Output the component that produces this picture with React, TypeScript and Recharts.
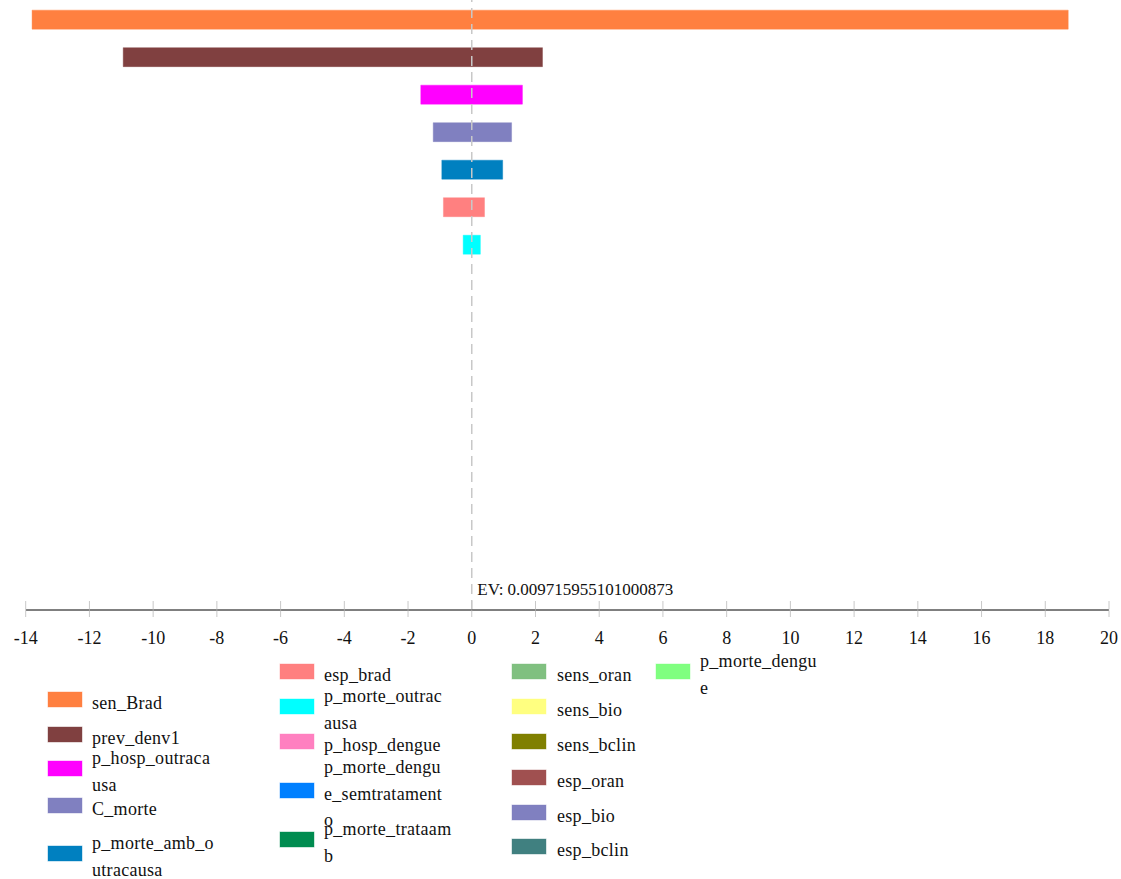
import React from 'react';
import { BarChart, Bar, XAxis, YAxis, ReferenceLine, Cell } from 'recharts';

// ---- data ----
const categories = [
  'sen_Brad',
  'prev_denv1',
  'p_hosp_outracausa',
  'C_morte',
  'p_morte_amb_outracausa',
  'esp_brad',
  'p_morte_outracausa',
  'p_hosp_dengue',
  'p_morte_dengue_semtratamento',
  'p_morte_trataamb',
  'sens_oran',
  'sens_bio',
  'sens_bclin',
  'esp_oran',
  'esp_bio',
  'esp_bclin',
  'p_morte_dengue',
];
const lowValues = [-13.8, -10.94, -1.6, -1.21, -0.94, -0.89, -0.27, 0, 0, 0, 0, 0, 0, 0, 0, 0, 0];
const highValues = [18.72, 2.22, 1.59, 1.25, 0.97, 0.4, 0.27, 0, 0, 0, 0, 0, 0, 0, 0, 0, 0];
const colors = [
  '#FF8040',
  '#804040',
  '#FF00FF',
  '#8080C0',
  '#0080C0',
  '#FF8080',
  '#00FFFF',
  '#FF80C0',
  '#0080FF',
  '#008C50',
  '#80C080',
  '#FFFF80',
  '#808000',
  '#A05050',
  '#8080C0',
  '#408080',
  '#80FF80',
];
const xTicks = [-14, -12, -10, -8, -6, -4, -2, 0, 2, 4, 6, 8, 10, 12, 14, 16, 18, 20];
const evValue = '0.009715955101000873';
// legend labels as wrapped in the reference
const legendLines = [
  ['sen_Brad'],
  ['prev_denv1'],
  ['p_hosp_outraca', 'usa'],
  ['C_morte'],
  ['p_morte_amb_o', 'utracausa'],
  ['esp_brad'],
  ['p_morte_outrac', 'ausa'],
  ['p_hosp_dengue'],
  ['p_morte_dengu', 'e_semtratament', 'o'],
  ['p_morte_trataam', 'b'],
  ['sens_oran'],
  ['sens_bio'],
  ['sens_bclin'],
  ['esp_oran'],
  ['esp_bio'],
  ['esp_bclin'],
  ['p_morte_dengu', 'e'],
];

// ---- layout (not data) ----
const legendColumns = [
  { x: 48, tx: 92, items: [0, 1, 2, 3, 4], tops: [692, 727, 761, 798, 846] },
  { x: 280, tx: 324, items: [5, 6, 7, 8, 9], tops: [664, 699, 734, 783, 832] },
  { x: 512, tx: 557, items: [10, 11, 12, 13, 14, 15], tops: [664, 699, 734, 770, 805, 839] },
  { x: 656, tx: 700, items: [16], tops: [664] },
];

const FONT = "'Liberation Serif', 'Times New Roman', Times, serif";
const textStyle = { fontFamily: FONT };

const rows = categories.map((name, i) => ({
  name,
  idx: i,
  range: [lowValues[i], highValues[i]],
}));

const AxisTick = (props: any) => {
  const { x, y, payload } = props;
  return (
    <g>
      <line x1={x} x2={x} y1={y - 9} y2={y - 0.5} stroke="#c8c8c8" strokeWidth={1} />
      <line x1={x} x2={x} y1={y + 0.5} y2={y + 7} stroke="#c8c8c8" strokeWidth={1} />
      <text x={x} y={y + 34} textAnchor="middle" style={textStyle} fontSize={18} fill="#111">
        {payload.value}
      </text>
    </g>
  );
};

const EvLabel = (props: any) => {
  const vb = props.viewBox || {};
  return (
    <text x={vb.x + 5.5} y={vb.y + vb.height - 15} style={textStyle} fontSize={17} fill="#111">
      {`EV: ${evValue}`}
    </text>
  );
};

const Legend2 = () => (
  <svg
    width={1121}
    height={879}
    style={{ position: 'absolute', left: 0, top: 0, overflow: 'visible', pointerEvents: 'none' }}
  >
    {legendColumns.map((col, ci) =>
      col.items.map((item, k) => {
        const top = col.tops[k];
        const lines = legendLines[item];
        const n = lines.length;
        return (
          <g key={`${ci}-${k}`}>
            <rect
              x={col.x}
              y={top}
              width={34}
              height={15}
              fill={colors[item]}
              stroke={colors[item]}
              strokeOpacity={0.4}
            />
            <text style={textStyle} fontSize={18} letterSpacing={0.3} fill="#111">
              {lines.map((ln, li) => (
                <tspan key={li} x={col.tx} y={top + 16.5 + (li - (n - 1) / 2) * 26.7}>
                  {ln}
                </tspan>
              ))}
            </text>
          </g>
        );
      })
    )}
  </svg>
);

export default function App() {
  return (
    <div style={{ position: 'relative', width: 1121, height: 879, fontFamily: FONT }}>
      <style>{`html,body{margin:0;padding:0;overflow:hidden;background:#fff}`}</style>
      <BarChart
        width={1121}
        height={660}
        data={rows}
        layout="vertical"
        margin={{ top: 0, right: 12, bottom: 0, left: 25.7 }}
      >
        <XAxis
          type="number"
          domain={[-14, 20]}
          ticks={xTicks}
          interval={0}
          allowDataOverflow
          height={50}
          axisLine={{ stroke: '#000', strokeWidth: 1 }}
          tickLine={false}
          tickSize={0}
          tickMargin={0}
          tick={<AxisTick />}
        />
        <YAxis
          type="number"
          dataKey="idx"
          domain={[-0.53, 15.73]}
          ticks={categories.map((_, i) => i)}
          hide
          allowDataOverflow
        />
        <Bar dataKey="range" barSize={19} isAnimationActive={false}>
          {rows.map((r, i) => (
            <Cell key={r.name} fill={colors[i]} stroke={colors[i]} strokeOpacity={0.4} strokeWidth={1} />
          ))}
        </Bar>
        <ReferenceLine
          x={0}
          stroke="#c8c8c8"
          strokeWidth={1.5}
          strokeDasharray="10 6"
          label={<EvLabel />}
        />
      </BarChart>
      <Legend2 />
    </div>
  );
}
